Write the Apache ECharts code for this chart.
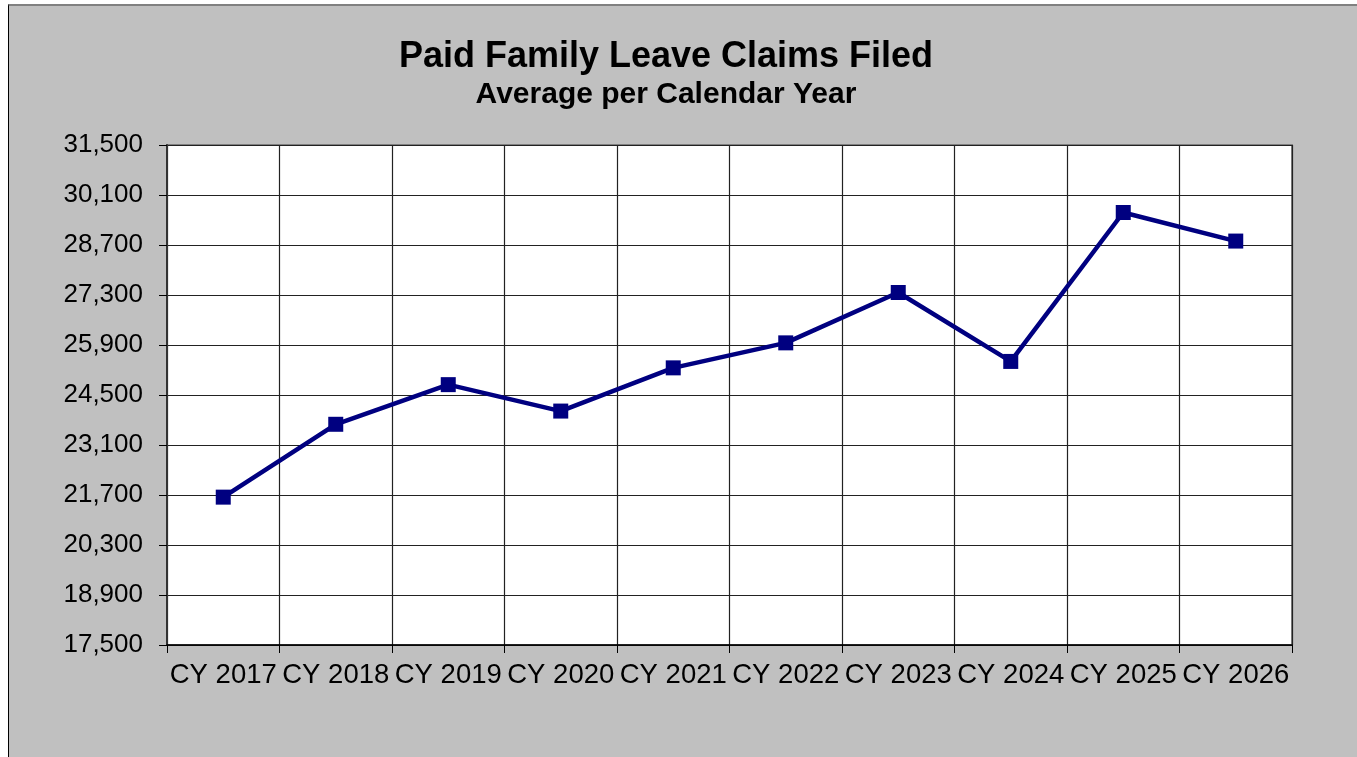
<!DOCTYPE html>
<html>
<head>
<meta charset="utf-8">
<script src="https://cdn.jsdelivr.net/npm/echarts@6/dist/echarts.min.js"></script>
<style>
  html, body { margin: 0; padding: 0; background: #fff; }
  #wrap {
    position: absolute; left: 8px; top: 4px; width: 1349px; height: 753px;
    background: #c0c0c0; border-left: 1px solid #000; border-top: 2px solid #808080;
  }
  #chart { width: 1349px; height: 753px; }
</style>
</head>
<body>
<div id="wrap"><div id="chart"></div></div>
<script>
// calendar years on the x axis
var categories = ['CY 2017', 'CY 2018', 'CY 2019', 'CY 2020', 'CY 2021',
                  'CY 2022', 'CY 2023', 'CY 2024', 'CY 2025', 'CY 2026'];
// average claims filed per calendar year
var claims = [21640, 23680, 24790, 24050, 25260, 25960, 27370, 25440, 29610, 28810];
// y axis range
var yMin = 17500;
var yMax = 31500;
var yStep = 1400;

var chart = echarts.init(document.getElementById('chart'));
chart.setOption({
  animation: false,
  textStyle: { fontFamily: 'Liberation Sans, Arial, sans-serif' },
  title: [
    {
      text: 'Paid Family Leave Claims Filed',
      left: 652, top: 28, textAlign: 'center',
      textStyle: { fontSize: 36, fontWeight: 'bold', color: '#000' }
    },
    {
      text: 'Average per Calendar Year',
      left: 652, top: 69, textAlign: 'center',
      textStyle: { fontSize: 30, fontWeight: 'bold', color: '#000' }
    }
  ],
  grid: {
    left: 158, top: 139, width: 1125, height: 500,
    show: true, backgroundColor: '#fff', borderColor: '#808080', borderWidth: 2
  },
  xAxis: {
    type: 'category',
    data: categories,
    boundaryGap: true,
    axisLine: { lineStyle: { color: '#000', width: 1.5 } },
    axisTick: { show: true, length: 8, inside: false, alignWithLabel: false,
                lineStyle: { color: '#000' } },
    axisLabel: { interval: 0, margin: 16, fontSize: 27.5, color: '#000' },
    splitLine: { show: true, interval: 0, lineStyle: { color: '#222', width: 1.2 } }
  },
  yAxis: {
    type: 'value',
    min: yMin, max: yMax, interval: yStep,
    axisLine: { show: true, lineStyle: { color: '#333', width: 2 } },
    axisTick: { show: true, length: 8, lineStyle: { color: '#000' } },
    axisLabel: {
      margin: 24, fontSize: 26, color: '#000',
      formatter: function (v) { return v.toLocaleString('en-US'); }
    },
    splitLine: { show: true, lineStyle: { color: '#222', width: 1.2 } }
  },
  series: [{
    type: 'line',
    data: claims,
    symbol: 'rect',
    symbolSize: 15,
    lineStyle: { color: '#000080', width: 4.5 },
    itemStyle: { color: '#000080' }
  }]
});
</script>
</body>
</html>
